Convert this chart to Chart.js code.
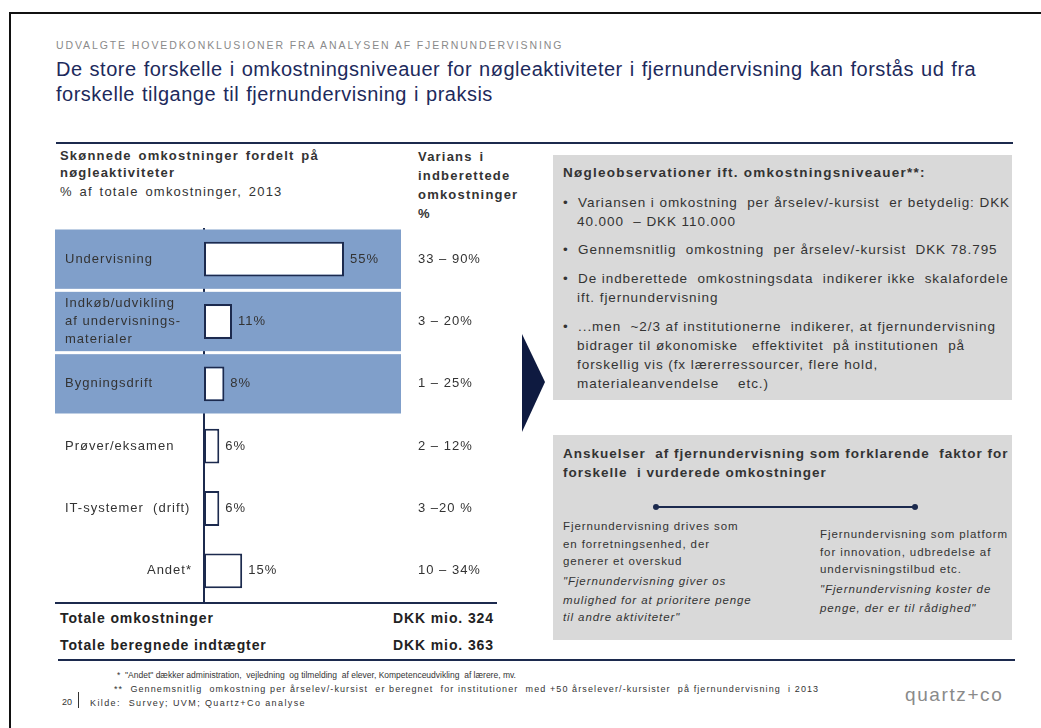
<!DOCTYPE html>
<html>
<head>
<meta charset="utf-8">
<script src="https://cdn.jsdelivr.net/npm/chart.js@4"></script>
<style>
  body{margin:0;width:1041px;height:728px;overflow:hidden;background:#fff;font-family:"Liberation Sans",Arial,sans-serif;position:relative;}
  .abs{position:absolute;white-space:nowrap;}
  .frame{position:absolute;left:9px;top:12px;width:1100px;height:800px;border:2px solid #111;}
  .kicker{left:56px;top:39px;font-size:10.5px;color:#8a8a8a;letter-spacing:1.9px;}
  .title{left:56px;top:57px;font-size:20px;line-height:25px;color:#1d2a5c;letter-spacing:0.5px;word-spacing:1px;}
  .hline{position:absolute;background:#1c2a4e;}
  .hdr{font-size:13px;font-weight:bold;color:#333;line-height:17px;letter-spacing:1.2px;word-spacing:2px;}
  .box{position:absolute;background:#d9d9d9;}
  .bt{font-size:13.5px;color:#333;line-height:19px;letter-spacing:0.93px;}
  .bt b{font-weight:bold;}
  .tot{font-size:14px;font-weight:bold;color:#222;letter-spacing:0.9px;}
  .small{font-size:11.5px;color:#333;line-height:17.5px;letter-spacing:0.9px;}
  .foot{font-size:8.5px;color:#333;}
</style>
</head>
<body>
<div class="frame"></div>

<div class="abs kicker">UDVALGTE HOVEDKONKLUSIONER FRA ANALYSEN AF FJERNUNDERVISNING</div>
<div class="abs title">De store forskelle i omkostningsniveauer for nøgleaktiviteter i fjernundervisning kan forstås ud fra<br>forskelle tilgange til fjernundervisning i praksis</div>

<div class="hline" style="left:56px;top:142px;width:957px;height:2px;"></div>

<div class="abs hdr" style="left:60px;top:147px;">Skønnede omkostninger fordelt på<br>nøgleaktiviteter<br><span style="font-weight:normal;line-height:22px;">% af totale omkostninger, 2013</span></div>
<div class="abs hdr" style="left:418px;top:147px;line-height:19px;">Varians i<br>indberettede<br>omkostninger<br>%</div>

<div style="position:absolute;left:55px;top:228px;width:445px;height:374px;">
  <canvas id="c" width="445" height="374"></canvas>
</div>

<div class="hline" style="left:55px;top:602px;width:442px;height:2px;"></div>
<div class="abs tot" style="left:60px;top:610px;">Totale omkostninger</div>
<div class="abs tot" style="right:547px;top:610px;">DKK mio. 324</div>
<div class="abs tot" style="left:60px;top:637px;">Totale beregnede indtægter</div>
<div class="abs tot" style="right:547px;top:637px;">DKK mio. 363</div>
<div class="hline" style="left:58px;top:659px;width:957px;height:2px;"></div>

<!-- pil -->
<svg style="position:absolute;left:520px;top:334px;" width="28" height="100"><polygon points="2,0 25,48 2,98" fill="#0e1a40"/></svg>

<div class="box" style="left:553px;top:155px;width:459px;height:245px;"></div>
<div class="abs bt" style="left:563px;top:163px;letter-spacing:1.25px;"><b>Nøgleobservationer ift. omkostningsniveauer**:</b></div>
<div class="abs bt" style="left:563px;top:193px;">•&nbsp;&nbsp;Variansen i omkostning &nbsp;per årselev/-kursist &nbsp;er betydelig: DKK<br>&nbsp;&nbsp;&nbsp;40.000 &nbsp;– DKK 110.000</div>
<div class="abs bt" style="left:563px;top:240px;">•&nbsp;&nbsp;Gennemsnitlig &nbsp;omkostning &nbsp;per årselev/-kursist &nbsp;DKK 78.795</div>
<div class="abs bt" style="left:563px;top:269px;">•&nbsp;&nbsp;De indberettede &nbsp;omkostningsdata &nbsp;indikerer ikke &nbsp;skalafordele<br>&nbsp;&nbsp;&nbsp;ift. fjernundervisning</div>
<div class="abs bt" style="left:563px;top:317px;">•&nbsp;&nbsp;...men &nbsp;~2/3 af institutionerne &nbsp;indikerer, at fjernundervisning<br>&nbsp;&nbsp;&nbsp;bidrager til økonomiske &nbsp;&nbsp;effektivitet &nbsp;på institutionen &nbsp;på<br>&nbsp;&nbsp;&nbsp;forskellig vis (fx lærerressourcer, flere hold,<br>&nbsp;&nbsp;&nbsp;materialeanvendelse &nbsp;&nbsp;&nbsp;etc.)</div>

<div class="box" style="left:553px;top:435px;width:459px;height:205px;"></div>
<div class="abs bt" style="left:563px;top:444px;letter-spacing:1px;"><b>Anskuelser &nbsp;af fjernundervisning som forklarende &nbsp;faktor for<br>forskelle &nbsp;i vurderede omkostninger</b></div>
<div class="hline" style="left:656px;top:506px;width:259px;height:2px;"></div>
<div style="position:absolute;left:653px;top:504px;width:6px;height:6px;border-radius:3px;background:#1c2a4e;"></div>
<div style="position:absolute;left:912px;top:504px;width:6px;height:6px;border-radius:3px;background:#1c2a4e;"></div>
<div class="abs small" style="left:563px;top:518px;">Fjernundervisning drives som<br>en forretningsenhed, der<br>generer et overskud<br><i style="line-height:21px">"Fjernundervisning giver os</i><br><i>mulighed for at prioritere penge</i><br><i>til andre aktiviteter"</i></div>
<div class="abs small" style="left:820px;top:526px;">Fjernundervisning som platform<br>for innovation, udbredelse af<br>undervisningstilbud etc.<br><i style="line-height:21px">"Fjernundervisning koster de</i><br><i>penge, der er til rådighed"</i></div>

<div class="abs foot" style="left:117px;top:670px;">* &nbsp;"Andet" dækker administration, &nbsp;vejledning &nbsp;og tilmelding &nbsp;af elever, Kompetenceudvikling &nbsp;af lærere, mv.</div>
<div class="abs foot" style="left:114px;top:684px;font-size:9px;letter-spacing:1.1px;">** &nbsp;Gennemsnitlig &nbsp;omkostning per årselev/-kursist &nbsp;er beregnet &nbsp;for institutioner &nbsp;med +50 årselever/-kursister &nbsp;på fjernundervisning &nbsp;i 2013</div>
<div class="abs foot" style="left:90px;top:698px;font-size:9px;letter-spacing:1.4px;">Kilde: &nbsp;Survey; UVM; Quartz+Co analyse</div>
<div class="abs foot" style="left:62px;top:697px;font-size:9px;">20</div>
<div class="hline" style="left:78px;top:692px;width:1px;height:16px;background:#333;"></div>
<div class="abs" style="left:905px;top:684px;font-size:19px;color:#8a8a8a;letter-spacing:1.6px;">quartz+co</div>

<script>
// Skønnede omkostninger fordelt på nøgleaktiviteter, % af totale omkostninger 2013
const categories = ['Undervisning', ['Indkøb/udvikling', 'af undervisnings-', 'materialer'], 'Bygningsdrift',
                    'Prøver/eksamen', 'IT-systemer  (drift)', 'Andet*'];
const shares = [55, 11, 8, 6, 6, 15];
const varians = ['33 – 90%', '3 – 20%', '1 – 25%', '2 – 12%', '3 –20 %', '10 – 34%'];
const bandedRows = [0, 1, 2];          // rækker med blå baggrund
const rightAligned = ['Andet*'];       // label placeret tæt på aksen

const NAVY = '#1c2a4e';
const BAND = '#809fca';
const TEXT = '#333';

const rowDecor = {
  id: 'rowDecor',
  beforeDatasetsDraw(chart){
    const {ctx, chartArea, scales:{y}} = chart;
    const slot = (chartArea.bottom - chartArea.top) / categories.length;
    ctx.save();
    ctx.fillStyle = BAND;
    bandedRows.forEach(i=>{
      const yc = y.getPixelForValue(i);
      ctx.fillRect(0, yc - slot/2 + 1.5, chartArea.right, slot - 3);
    });
    ctx.restore();
  },
  afterDatasetsDraw(chart){
    const {ctx, scales:{x, y}} = chart;
    ctx.save();
    ctx.fillStyle = TEXT;
    ctx.font = '13px "Liberation Sans", Arial, sans-serif';
    ctx.letterSpacing = '1px';
    ctx.textBaseline = 'middle';
    categories.forEach((lab, i)=>{
      const yc = y.getPixelForValue(i);
      const lines = Array.isArray(lab) ? lab : [lab];
      const right = rightAligned.includes(lines[0]);
      ctx.textAlign = right ? 'right' : 'left';
      const lx = right ? 137 : 10;
      lines.forEach((ln, k)=>{
        ctx.fillText(ln, lx, yc + (k - (lines.length-1)/2) * 18);
      });
      // værdi-label
      ctx.textAlign = 'left';
      ctx.fillText(shares[i] + '%', x.getPixelForValue(shares[i]) + 6, yc);
      // varians
      ctx.fillText(varians[i], 363, yc);
    });
    ctx.restore();
  }
};

new Chart(document.getElementById('c'), {
  type: 'bar',
  data: {
    labels: categories,
    datasets: [{
      data: shares,
      backgroundColor: '#fff',
      borderColor: NAVY,
      borderWidth: 2,
      borderSkipped: false,
      barPercentage: 0.56,
      categoryPercentage: 1
    }]
  },
  options: {
    indexAxis: 'y',
    responsive: false,
    animation: false,
    devicePixelRatio: 1,
    layout: {padding: {left: 149, right: 99, top: 0, bottom: 0}},
    plugins: {legend: {display: false}, tooltip: {enabled: false}},
    scales: {
      x: {display: false, min: 0, max: 77.4},
      y: {
        display: true,
        ticks: {display: false},
        grid: {display: false, drawTicks: false},
        border: {display: true, color: NAVY, width: 2}
      }
    }
  },
  plugins: [rowDecor]
});
</script>
</body>
</html>
